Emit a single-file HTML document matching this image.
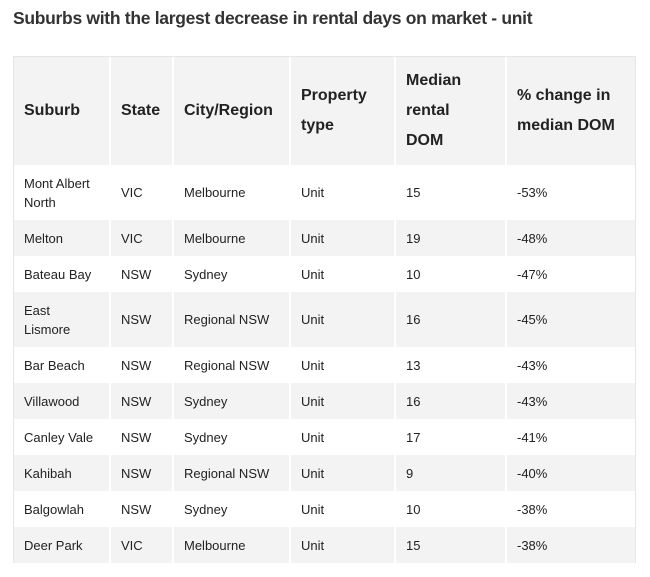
<!DOCTYPE html>
<html><head><style>
body{margin:0;background:#fff;width:650px;height:577px;overflow:hidden;font-family:"Liberation Sans",Arial,sans-serif;color:#222;position:relative}
.t{position:absolute;left:13px;top:8px;font-size:17.5px;font-weight:bold;color:#333;letter-spacing:-0.3px}
.tbl{position:absolute;left:13px;top:56px;width:623px;height:507px;border:1px solid #e6e6e6;box-sizing:border-box}
.r{position:absolute;left:0;width:621px;display:flex}
.c{box-sizing:border-box;padding-left:10px;display:flex;align-items:center;border-right:2px solid #fff}
.c:last-child{border-right:none}
.h .c{font-weight:bold;font-size:16px;line-height:30px;color:#222}
.b .c{font-size:13px;line-height:19px}
.g{background:#f3f3f3}
</style></head><body>
<div class="t">Suburbs with the largest decrease in rental days on market - unit</div>
<div class="tbl">
<div class="r h g" style="top:0;height:108px">
<div class="c" style="width:97px">Suburb</div>
<div class="c" style="width:63px">State</div>
<div class="c" style="width:117px">City/Region</div>
<div class="c" style="width:105px">Property<br>type</div>
<div class="c" style="width:111px">Median<br>rental<br>DOM</div>
<div class="c" style="width:128px">% change in<br>median DOM</div>
</div>
<div id="rows"></div>
</div>
<script>
var d=[["Mont Albert<br>North","VIC","Melbourne","15","-53%",55],["Melton","VIC","Melbourne","19","-48%",36],["Bateau Bay","NSW","Sydney","10","-47%",36],["East<br>Lismore","NSW","Regional NSW","16","-45%",55],["Bar Beach","NSW","Regional NSW","13","-43%",36],["Villawood","NSW","Sydney","16","-43%",36],["Canley Vale","NSW","Sydney","17","-41%",36],["Kahibah","NSW","Regional NSW","9","-40%",36],["Balgowlah","NSW","Sydney","10","-38%",36],["Deer Park","VIC","Melbourne","15","-38%",36]];
var y=108,h="";
d.forEach(function(r,i){h+='<div class="r b'+(i%2?' g':'')+'" style="top:'+y+'px;height:'+r[5]+'px"><div class="c" style="width:97px">'+r[0]+'</div><div class="c" style="width:63px">'+r[1]+'</div><div class="c" style="width:117px">'+r[2]+'</div><div class="c" style="width:105px">Unit</div><div class="c" style="width:111px">'+r[3]+'</div><div class="c" style="width:128px">'+r[4]+'</div></div>';y+=r[5];});
document.getElementById('rows').outerHTML=h;
</script>
</body></html>
